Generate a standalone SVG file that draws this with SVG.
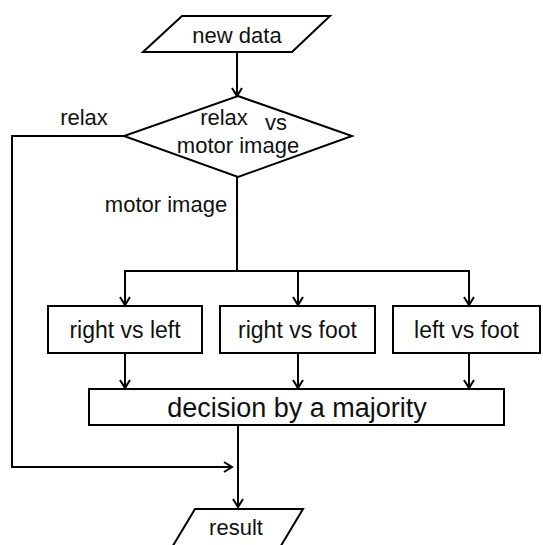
<svg xmlns="http://www.w3.org/2000/svg" width="543" height="545" viewBox="0 0 543 545">
  <style>
    .shape { fill: #ffffff; stroke: #000000; stroke-width: 2; }
    .wire { fill: none; stroke: #000000; stroke-width: 2; }
    .label { font-family: "Liberation Sans", Arial, sans-serif; font-size: 22px; fill: #111111; text-anchor: middle; }
    .box { font-size: 23px; }
    .big { font-size: 27px; }
  </style>
  <defs>
    <marker id="arrow" markerUnits="userSpaceOnUse" markerWidth="14" markerHeight="14" viewBox="-10 -7 12 14" refX="0" refY="0" orient="auto">
      <path d="M -8 -5 L 0 0 L -8 5" fill="none" stroke="#000000" stroke-width="2"/>
    </marker>
  </defs>
  <rect width="543" height="545" fill="#ffffff"/>

  <g id="connectors">
    <line class="wire" x1="237" y1="52" x2="237" y2="96" marker-end="url(#arrow)"/>
    <polyline class="wire" points="124,136 12,136 12,467 232,467" marker-end="url(#arrow)"/>
    <polyline class="wire" points="237,177 237,271"/>
    <polyline class="wire" points="125,271 469,271 469,305" marker-end="url(#arrow)"/>
    <line class="wire" x1="125" y1="270" x2="125" y2="305" marker-end="url(#arrow)"/>
    <line class="wire" x1="298" y1="271" x2="298" y2="305" marker-end="url(#arrow)"/>
    <line class="wire" x1="125" y1="353" x2="125" y2="388" marker-end="url(#arrow)"/>
    <line class="wire" x1="298" y1="353" x2="298" y2="388" marker-end="url(#arrow)"/>
    <line class="wire" x1="469" y1="353" x2="469" y2="388" marker-end="url(#arrow)"/>
    <line class="wire" x1="238" y1="425" x2="238" y2="507" marker-end="url(#arrow)"/>
    <text class="label" x="84" y="125">relax</text>
    <text class="label" x="166" y="212">motor image</text>
  </g>

  <g id="new-data">
    <polygon class="shape" points="182,16 330,16 292,52 143,52"/>
    <text class="label" x="237" y="43">new data</text>
  </g>

  <g id="relax-vs-motor">
    <polygon class="shape" points="238,96 352,136 238,177 124,136"/>
    <text class="label" x="224" y="125">relax</text>
    <text class="label" x="276" y="130">vs</text>
    <text class="label" x="238" y="153">motor image</text>
  </g>

  <g id="right-vs-left">
    <rect class="shape" x="48" y="306" width="154" height="47"/>
    <text class="label box" x="125" y="338">right vs left</text>
  </g>

  <g id="right-vs-foot">
    <rect class="shape" x="220" y="306" width="155" height="47"/>
    <text class="label box" x="297.5" y="338">right vs foot</text>
  </g>

  <g id="left-vs-foot">
    <rect class="shape" x="393" y="306" width="147" height="47"/>
    <text class="label box" x="466.5" y="338">left vs foot</text>
  </g>

  <g id="majority">
    <rect class="shape" x="89" y="389" width="415" height="36"/>
    <text class="label big" x="297" y="417">decision by a majority</text>
  </g>

  <g id="result">
    <polygon class="shape" points="195,509 303,509 276,554 168,554"/>
    <text class="label" x="236" y="535">result</text>
  </g>
</svg>
